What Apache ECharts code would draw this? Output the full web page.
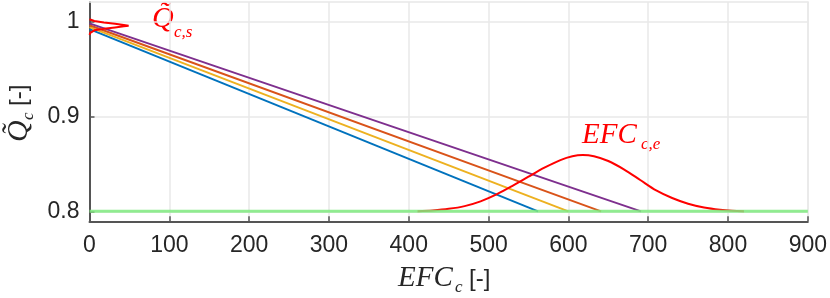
<!DOCTYPE html>
<html><head><meta charset="utf-8">
<script src="https://cdn.jsdelivr.net/npm/echarts@6/dist/echarts.min.js"></script>
<style>html,body{margin:0;padding:0;background:#fff}#c{width:830px;height:298px}</style>
</head><body><div id="c"></div><script>
const xTickValues = [0,100,200,300,400,500,600,700,800,900];
const yTickValues = [0.8,0.9,1];
const blueLine   = [[0,0.992],[562,0.8]];
const yellowLine = [[0,0.994],[600,0.8]];
const orangeLine = [[0,0.996],[641,0.8]];
const purpleLine = [[0,0.998],[691,0.8]];
const limitLine  = [[0,0.8],[900,0.8]];
const efcX = [411,430,450,470,490,510,530,550,570,590,605,618,632,650,670,690,710,730,750,770,790,805,820];
const efcY = [0.8002,0.8010,0.8026,0.8055,0.8105,0.8178,0.8268,0.8365,0.8460,0.8540,0.8580,0.8593,0.8580,0.8530,0.8440,0.8330,0.8220,0.8140,0.8080,0.8040,0.8016,0.8006,0.8002];
const qsX = [0,1,6,18,32,43,49,43,32,18,6,1,0];
const qsY = [1.0023,1.0015,1.0005,0.9990,0.9975,0.9963,0.9956,0.9949,0.9937,0.9922,0.9907,0.9880,0.9858];

const axisDark = '#555555';
const gridCol = '#e8e8e8';
const chart = echarts.init(document.getElementById('c'));
const serifI = {fontFamily:'Liberation Serif', fontStyle:'italic', fill:'#ff0000'};
chart.setOption({
  animation:false,
  backgroundColor:'#fff',
  grid:{left:89.5, right:21, top:2, bottom:76.7, containLabel:false},
  xAxis:[{
    type:'value', min:0, max:900, interval:100,
    axisLine:{show:true, onZero:false, lineStyle:{color:axisDark, width:2}},
    axisTick:{show:true, inside:true, length:5, lineStyle:{color:axisDark, width:1.5}},
    axisLabel:{fontFamily:'Liberation Sans', fontSize:23, color:'#262626', margin:13, customValues:xTickValues},
    splitLine:{show:true, lineStyle:{color:gridCol, width:1.5}}
  },{
    type:'value', position:'top', min:0, max:900,
    axisLine:{show:true, onZero:false, lineStyle:{color:gridCol, width:1.5}},
    axisTick:{show:false}, axisLabel:{show:false}, splitLine:{show:false}
  }],
  yAxis:[{
    type:'value', min:0.7895, max:1.0205,
    axisLine:{show:true, onZero:false, lineStyle:{color:axisDark, width:2}},
    axisTick:{show:true, inside:true, length:5, customValues:yTickValues, lineStyle:{color:axisDark, width:1.5}},
    axisLabel:{fontFamily:'Liberation Sans', fontSize:23, color:'#262626', margin:10, customValues:yTickValues,
      formatter:v=>String(Math.round(v*10)/10)},
    splitLine:{show:true, lineStyle:{color:gridCol, width:1.5}}
  },{
    type:'value', position:'right', min:0.7895, max:1.0205,
    axisLine:{show:true, onZero:false, lineStyle:{color:gridCol, width:1.5}},
    axisTick:{show:false}, axisLabel:{show:false}, splitLine:{show:false}
  }],
  series:[
    {type:'line', data:blueLine, symbol:'none', lineStyle:{color:'#0072BD', width:2}, z:3},
    {type:'line', data:yellowLine, symbol:'none', lineStyle:{color:'#EDB120', width:2}, z:3},
    {type:'line', data:orangeLine, symbol:'none', lineStyle:{color:'#D95319', width:2}, z:3},
    {type:'line', data:purpleLine, symbol:'none', lineStyle:{color:'#7E2F8E', width:2}, z:3},
    {type:'line', data:efcX.map((x,i)=>[x,efcY[i]]), symbol:'none', smooth:0.3, lineStyle:{color:'#ff0000', width:2}, z:4},
    {type:'line', data:qsX.map((x,i)=>[x,qsY[i]]), symbol:'none', lineStyle:{color:'#ff0000', width:2}, z:4},
    {type:'line', data:limitLine, symbol:'none', lineStyle:{color:'#7fea7f', width:3, opacity:0.85}, z:5}
  ],
  graphic:[
    {type:'text', left:152, top:4, style:{text:'Q\u0303', fontSize:30, ...serifI}},
    {type:'text', left:174, top:24, style:{text:'c,s', fontSize:17, ...serifI}},
    {type:'text', left:582, top:121, style:{text:'EFC', fontSize:29, ...serifI}},
    {type:'text', left:641, top:136, style:{text:'c,e', fontSize:17, ...serifI}},
    {type:'text', left:398, top:264, style:{text:'EFC', fontSize:29, fontFamily:'Liberation Serif', fontStyle:'italic', fill:'#262626'}},
    {type:'text', left:455, top:279, style:{text:'c', fontSize:17, fontFamily:'Liberation Serif', fontStyle:'italic', fill:'#262626'}},
    {type:'text', left:469, top:267, style:{text:'[-]', fontSize:24, fontFamily:'Liberation Sans', fill:'#262626'}},
    {type:'group', x:4, y:142, rotation:Math.PI/2, children:[
      {type:'text', x:0, y:0, style:{text:'Q\u0303', fontSize:30, fontFamily:'Liberation Serif', fontStyle:'italic', fill:'#262626', textVerticalAlign:'top'}},
      {type:'text', x:22, y:16, style:{text:'c', fontSize:17, fontFamily:'Liberation Serif', fontStyle:'italic', fill:'#262626'}},
      {type:'text', x:36, y:3, style:{text:'[-]', fontSize:24, fontFamily:'Liberation Sans', fill:'#262626'}}
    ]}
  ]
});
</script></body></html>
